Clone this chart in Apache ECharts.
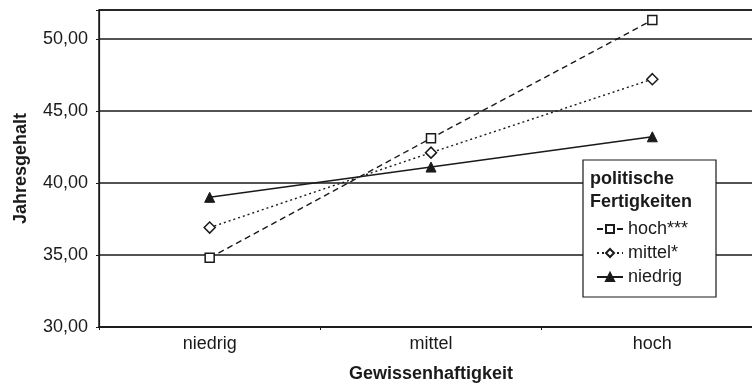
<!DOCTYPE html>
<html>
<head>
<meta charset="utf-8">
<script src="https://cdn.jsdelivr.net/npm/echarts@6/dist/echarts.min.js"></script>
<style>
  html, body { margin: 0; padding: 0; background: #fff; }
  #myChart { width: 752px; height: 385px; }
</style>
</head>
<body>
<div id="myChart"></div>
<script>
// Gewissenhaftigkeit categories
const categories = ['niedrig', 'mittel', 'hoch'];
// Jahresgehalt per politische Fertigkeiten group
const hochValues = [34.8, 43.1, 51.3];
const mittelValues = [36.9, 42.1, 47.2];
const niedrigValues = [39.0, 41.1, 43.2];
const seriesNames = ['hoch***', 'mittel*', 'niedrig'];

const font = '"Liberation Sans", Arial, sans-serif';
const ink = '#1a1a1a';

let myChart = echarts.init(document.getElementById('myChart'));
myChart.setOption({
  animation: false,
  textStyle: { fontFamily: font },
  grid: {
    left: 99,
    width: 664,
    top: 10,
    bottom: 58,
    outerBoundsMode: 'none',
    containLabel: false,
    show: true,
    borderColor: ink,
    borderWidth: 1.5,
  },
  legend: {
    orient: 'vertical',
    left: 591,
    top: 215,
    z: 10,
    itemWidth: 26,
    itemHeight: 10,
    itemGap: 6,
    data: seriesNames,
    textStyle: { fontFamily: font, fontSize: 18, color: ink, lineHeight: 18 },
  },
  graphic: [
    {
      type: 'rect',
      shape: { x: 583, y: 160, width: 133, height: 137 },
      style: { fill: '#fff', stroke: ink, lineWidth: 1.2 },
      z: 5,
    },
    {
      type: 'text',
      left: 590,
      top: 168,
      z: 6,
      style: {
        text: 'politische\nFertigkeiten',
        font: 'bold 18px ' + font,
        lineHeight: 23,
        fill: ink,
      },
    },
  ],
  xAxis: {
    type: 'category',
    data: categories,
    boundaryGap: true,
    name: 'Gewissenhaftigkeit',
    nameLocation: 'middle',
    nameGap: 38,
    nameTextStyle: { fontWeight: 'bold', fontSize: 18, color: ink },
    axisLine: { lineStyle: { color: ink, width: 1.5 } },
    axisTick: { show: true, length: 3, lineStyle: { color: ink } },
    axisLabel: { fontSize: 18, color: ink, margin: 8 },
  },
  yAxis: {
    type: 'value',
    min: 30,
    max: 52,
    interval: 5,
    name: 'Jahresgehalt',
    nameLocation: 'middle',
    nameGap: 69,
    nameTextStyle: { fontWeight: 'bold', fontSize: 18, color: ink },
    axisLine: { show: true, lineStyle: { color: ink, width: 1.2 } },
    axisTick: { show: true, length: 3, lineStyle: { color: ink } },
    axisLabel: {
      fontSize: 18,
      color: ink,
      margin: 11,
      formatter: function (v) {
        if (v % 5 !== 0) return '';
        return v.toFixed(2).replace('.', ',');
      },
    },
    splitLine: { show: true, lineStyle: { color: ink, width: 1.5 } },
  },
  series: [
    {
      name: seriesNames[0],
      type: 'line',
      data: hochValues,
      symbol: 'rect',
      symbolSize: 9,
      z: 3,
      itemStyle: { color: '#fff', borderColor: ink, borderWidth: 1.5 },
      lineStyle: { color: ink, width: 1.4, type: [6, 4] },
    },
    {
      name: seriesNames[1],
      type: 'line',
      data: mittelValues,
      symbol: 'diamond',
      symbolSize: 11,
      z: 3,
      itemStyle: { color: '#fff', borderColor: ink, borderWidth: 1.5 },
      lineStyle: { color: ink, width: 1.4, type: [2, 3] },
    },
    {
      name: seriesNames[2],
      type: 'line',
      data: niedrigValues,
      symbol: 'triangle',
      symbolSize: 10,
      z: 3,
      itemStyle: { color: ink, borderColor: ink, borderWidth: 1 },
      lineStyle: { color: ink, width: 1.4, type: 'solid' },
    },
  ],
});
window.onresize = function () {
  myChart.resize();
};
</script>
</body>
</html>
